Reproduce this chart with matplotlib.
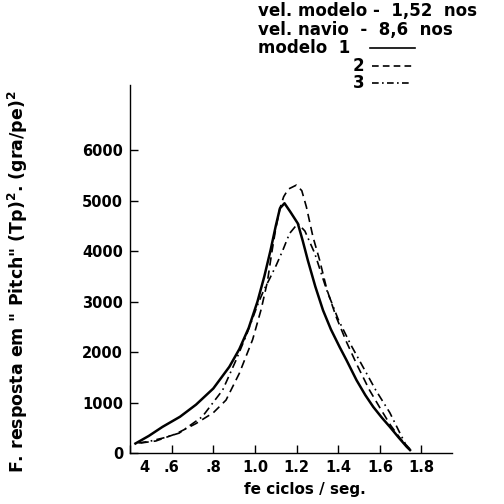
import matplotlib
matplotlib.use("Agg")
import matplotlib.pyplot as plt
import matplotlib.transforms as mtransforms

# Modelo 1 (solid)
x1 = [0.426, 0.49, 0.556, 0.64, 0.717, 0.80, 0.877, 0.925, 0.97, 1.012, 1.045, 1.075, 1.10, 1.12,
      1.142, 1.17, 1.206, 1.23, 1.254, 1.29, 1.327, 1.365, 1.407, 1.44, 1.488, 1.53, 1.568,
      1.61, 1.648, 1.69, 1.729, 1.745]
y1 = [190, 340, 520, 720, 960, 1280, 1710, 2060, 2480, 3000, 3500, 4020, 4500, 4850,
      4950, 4780, 4550, 4200, 3820, 3300, 2830, 2450, 2100, 1840, 1445, 1150, 917,
      700, 520, 310, 125, 60]

# Modelo 2 (dashed)
x2 = [0.45, 0.524, 0.62, 0.717, 0.80, 0.861, 0.925, 0.989, 1.03, 1.06, 1.08, 1.10, 1.12, 1.138,
      1.16, 1.199, 1.225, 1.247, 1.279, 1.311, 1.345, 1.39, 1.44, 1.49, 1.55, 1.60, 1.65, 1.70, 1.745]
y2 = [200, 240, 380, 586, 800, 1050, 1580, 2250, 2850, 3400, 3950, 4450, 4850, 5080,
      5230, 5310, 5200, 4880, 4280, 3820, 3250, 2700, 2200, 1750, 1250, 900, 560, 280, 80]

# Modelo 3 (dash-dot)
x3 = [0.44, 0.49, 0.56, 0.636, 0.747, 0.845, 0.909, 0.96, 1.014, 1.045, 1.07, 1.102, 1.134, 1.166,
      1.206, 1.24, 1.287, 1.343, 1.40, 1.46, 1.52, 1.58, 1.648, 1.69, 1.729]
y3 = [200, 230, 300, 396, 720, 1250, 1840, 2350, 2950, 3250, 3450, 3720, 4020, 4350,
      4550, 4400, 3960, 3250, 2650, 2150, 1700, 1250, 800, 450, 130]

xticks = [0.4, 0.6, 0.8, 1.0, 1.2, 1.4, 1.6, 1.8]
xticklabels = ["4", ".6", ".8", "1.0", "1.2", "1.4", "1.6", "1.8"]
yticks = [0, 1000, 2000, 3000, 4000, 5000, 6000]
yticklabels = ["0", "1000", "2000", "3000", "4000", "5000", "6000"]

fig = plt.figure(figsize=(5.04, 5.04), dpi=100)
ax = fig.add_axes([0.258, 0.101, 0.639, 0.730])

ax.plot(x1, y1, color="black", lw=1.8, ls="-")
ax.plot(x2, y2, color="black", lw=1.2, ls=(0, (5, 3)))
ax.plot(x3, y3, color="black", lw=1.2, ls=(0, (5, 2.5, 1, 2.5)))

ax.set_xlim(0.4, 1.947)
ax.set_ylim(0, 7290)
ax.set_xticks(xticks)
ax.set_xticklabels(xticklabels, fontsize=10.5, fontweight="bold")
ax.set_yticks(yticks)
ax.set_yticklabels(yticklabels, fontsize=10.5, fontweight="bold")
ax.tick_params(direction="in", length=6, width=1, pad=5)
for s in ["top", "right"]:
    ax.spines[s].set_visible(False)
for s in ["left", "bottom"]:
    ax.spines[s].set_linewidth(1.0)

# shift the first x label a little to the right, as in the reference
lab0 = ax.get_xticklabels()[0]
lab0.set_transform(lab0.get_transform() + mtransforms.ScaledTranslation(14/100, 0, fig.dpi_scale_trans))

fig.text(0.605, 0.028, "fe ciclos / seg.", fontsize=11, fontweight="bold", ha="center", va="center")
fig.text(0.036, 0.44, 'F. resposta em " Pitch" (Tp)$^\\mathbf{2}$. (gra/pe)$^\\mathbf{2}$',
         rotation=90, ha="center", va="center", fontsize=12.5, fontweight="bold")

# legend block
fig.text(0.512, 0.978, "vel. modelo -  1,52  nos", fontsize=12, fontweight="bold", va="center")
fig.text(0.512, 0.940, "vel. navio  -  8,6  nos", fontsize=12, fontweight="bold", va="center")
fig.text(0.512, 0.905, "modelo  1", fontsize=12, fontweight="bold", va="center")
fig.text(0.700, 0.869, "2", fontsize=12, fontweight="bold", va="center")
fig.text(0.700, 0.836, "3", fontsize=12, fontweight="bold", va="center")
fig.add_artist(plt.Line2D([0.735, 0.824], [0.905, 0.905], color="black", lw=1.2, transform=fig.transFigure))
fig.add_artist(plt.Line2D([0.738, 0.818], [0.869, 0.869], color="black", lw=1.2, ls=(0, (4, 2.5)), transform=fig.transFigure))
fig.add_artist(plt.Line2D([0.738, 0.818], [0.836, 0.836], color="black", lw=1.2, ls=(0, (4, 2, 1, 2)), transform=fig.transFigure))

fig.savefig("out.png", dpi=100, facecolor="white")
